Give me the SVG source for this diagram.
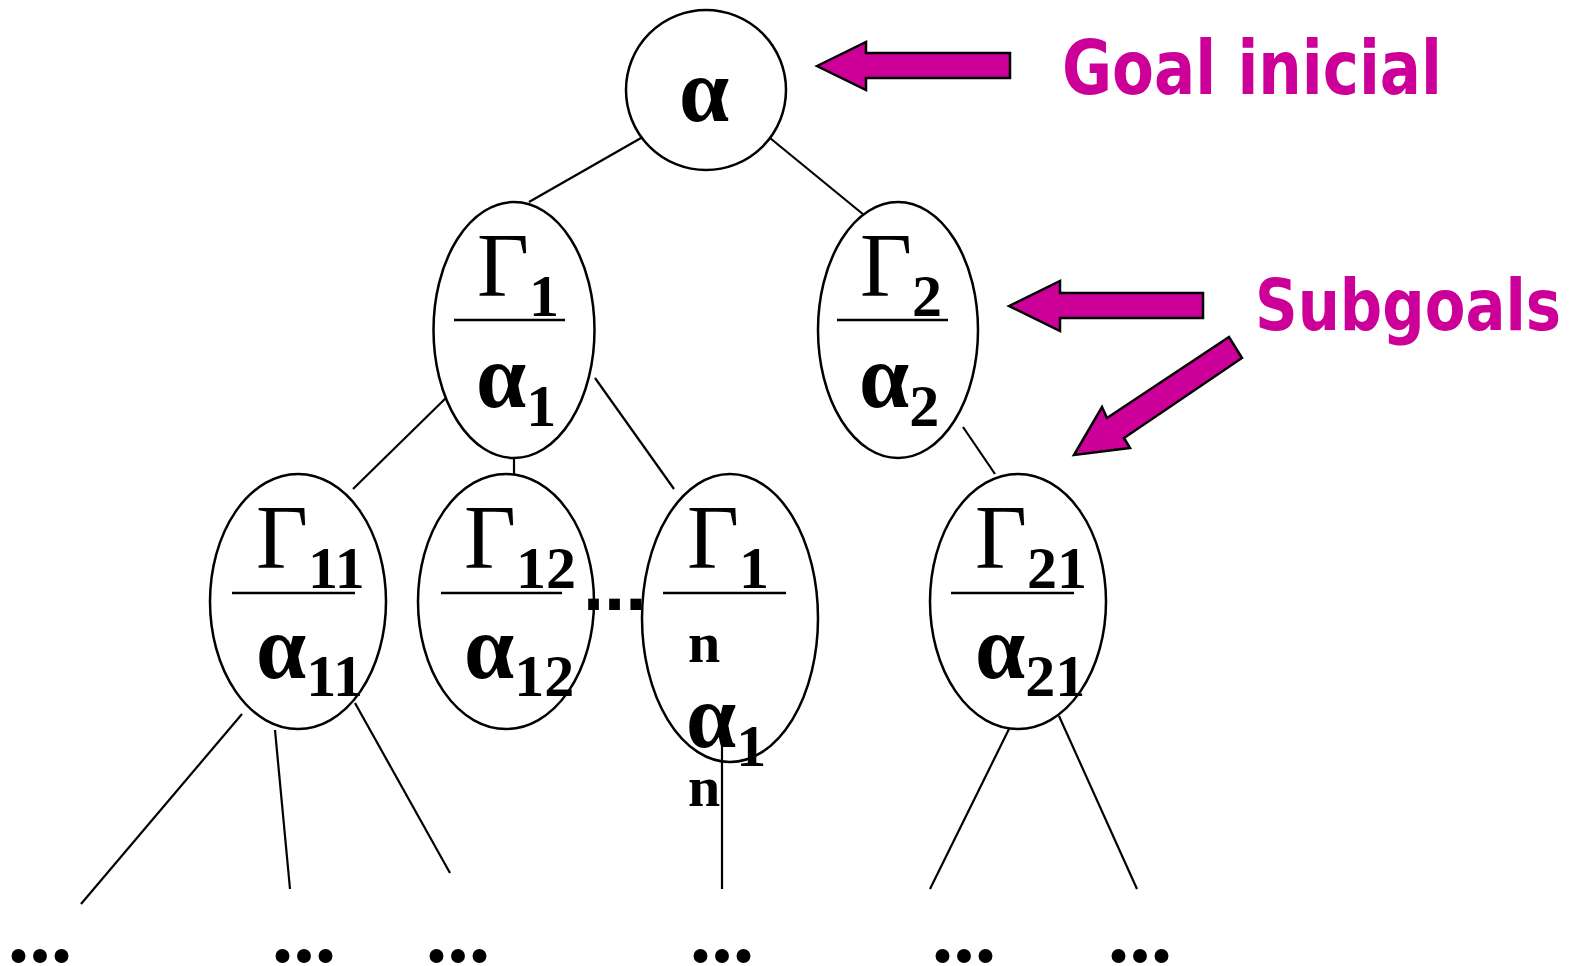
<svg xmlns="http://www.w3.org/2000/svg" width="1581" height="966" viewBox="0 0 1581 966">
<style>
  .node { fill: #ffffff; stroke: #000000; stroke-width: 2.5; }
  .frac { stroke: #000000; stroke-width: 2.5; }
  .edge { stroke: #000000; stroke-width: 2.2; fill: none; }
  .big { font-family: "Liberation Serif", "Times New Roman", serif; font-size: 90px; fill: #000; }
  .al { font-weight: bold; }
  .sub { font-size: 60px; font-weight: bold; }
  .nn { font-family: "Liberation Serif", "Times New Roman", serif; font-size: 58px; font-weight: bold; fill: #000; }
  .dots { font-family: "Liberation Serif", "Times New Roman", serif; font-size: 86px; font-weight: bold; fill: #000; }
  .mdots { font-family: "Liberation Sans", Arial, sans-serif; font-size: 76px; font-weight: bold; fill: #000; }
  .arrow { fill: #CC0099; stroke: #000000; stroke-width: 2.5; stroke-linejoin: miter; }
  .label { font-family: "Comic Sans MS", "DejaVu Sans", sans-serif; font-weight: bold; fill: #CC0099; }
</style>
<rect width="1581" height="966" fill="#ffffff"/>

<g id="connectors">
  <line class="edge" x1="641" y1="138" x2="529" y2="202"/>
  <line class="edge" x1="770" y1="138" x2="864" y2="215"/>
  <line class="edge" x1="450" y1="394" x2="353" y2="489"/>
  <line class="edge" x1="514" y1="458" x2="514" y2="475"/>
  <line class="edge" x1="595" y1="378" x2="674" y2="489"/>
  <line class="edge" x1="963" y1="427" x2="995" y2="474"/>
  <line class="edge" x1="242" y1="714" x2="81" y2="904"/>
  <line class="edge" x1="275" y1="730" x2="290" y2="889"/>
  <line class="edge" x1="355" y1="703" x2="450" y2="873"/>
  <line class="edge" x1="1009" y1="729" x2="930" y2="889"/>
  <line class="edge" x1="1059" y1="716" x2="1137" y2="889"/>
</g>

<g id="root">
  <circle class="node" cx="706" cy="90" r="80"/>
  <text class="big al" x="704" y="121" text-anchor="middle">α</text>
</g>

<g id="n1">
  <ellipse class="node" cx="514" cy="330" rx="80.5" ry="128"/>
  <text class="big" x="477" y="296">Γ<tspan class="sub" dy="20">1</tspan></text>
  <line class="frac" x1="454" y1="320" x2="565" y2="320"/>
  <text class="big" x="476" y="407"><tspan class="al">α</tspan><tspan class="sub" dy="19">1</tspan></text>
</g>

<g id="n2">
  <ellipse class="node" cx="898" cy="330" rx="80" ry="128"/>
  <text class="big" x="860" y="296">Γ<tspan class="sub" dy="20">2</tspan></text>
  <line class="frac" x1="837" y1="320" x2="948" y2="320"/>
  <text class="big" x="859" y="407"><tspan class="al">α</tspan><tspan class="sub" dy="19">2</tspan></text>
</g>

<g id="n11">
  <ellipse class="node" cx="298" cy="601.5" rx="88" ry="127.5"/>
  <text class="big" x="256" y="568">Γ<tspan class="sub" dy="20">11</tspan></text>
  <line class="frac" x1="232" y1="593" x2="355" y2="593"/>
  <text class="big" x="256" y="678"><tspan class="al">α</tspan><tspan class="sub" dy="18">11</tspan></text>
</g>

<g id="n12">
  <ellipse class="node" cx="506" cy="601.5" rx="88" ry="127.5"/>
  <text class="big" x="464" y="568">Γ<tspan class="sub" dy="20">12</tspan></text>
  <line class="frac" x1="441" y1="593" x2="562" y2="593"/>
  <text class="big" x="464" y="678"><tspan class="al">α</tspan><tspan class="sub" dy="18">12</tspan></text>
</g>

<g id="midDots">
  <text class="mdots" x="583" y="610">...</text>
</g>

<g id="n1n">
  <ellipse class="node" cx="730" cy="618" rx="88" ry="144"/>
  <text class="big" x="687" y="568">Γ<tspan class="sub" dy="20">1</tspan></text>
  <line class="frac" x1="663" y1="593" x2="786" y2="593"/>
  <text class="nn" x="688" y="662">n</text>
  <text class="big" x="686" y="747"><tspan class="al">α</tspan><tspan class="sub" dy="19">1</tspan></text>
  <text class="nn" x="688" y="806">n</text>
  <line class="edge" x1="722" y1="746" x2="722" y2="889"/>
</g>

<g id="n21">
  <ellipse class="node" cx="1018" cy="601.5" rx="88" ry="127.5"/>
  <text class="big" x="975" y="568">Γ<tspan class="sub" dy="20">21</tspan></text>
  <line class="frac" x1="951" y1="593" x2="1074" y2="593"/>
  <text class="big" x="975" y="678"><tspan class="al">α</tspan><tspan class="sub" dy="18">21</tspan></text>
</g>

<g id="leafDots">
  <text class="dots" x="40" y="962" text-anchor="middle">...</text>
  <text class="dots" x="304" y="962" text-anchor="middle">...</text>
  <text class="dots" x="458" y="962" text-anchor="middle">...</text>
  <text class="dots" x="722" y="962" text-anchor="middle">...</text>
  <text class="dots" x="964" y="962" text-anchor="middle">...</text>
  <text class="dots" x="1140" y="962" text-anchor="middle">...</text>
</g>

<g id="goalArrow">
  <polygon class="arrow" points="817,66 866,42 866,53 1010,53 1010,78 866,78 866,90"/>
</g>
<g id="goalLabel">
  <text class="label" x="1062" y="94" font-size="74" textLength="380" lengthAdjust="spacingAndGlyphs">Goal inicial</text>
</g>

<g id="subArrow1">
  <polygon class="arrow" points="1009,306 1060,281 1060,293 1203,293 1203,318 1060,318 1060,331"/>
</g>
<g id="subArrow2">
  <polygon class="arrow" points="1074,455 1102,407 1107,418 1229,337 1242,358 1124,438 1130,448"/>
</g>
<g id="subLabel">
  <text class="label" x="1255" y="330" font-size="72" textLength="306" lengthAdjust="spacingAndGlyphs">Subgoals</text>
</g>
</svg>
